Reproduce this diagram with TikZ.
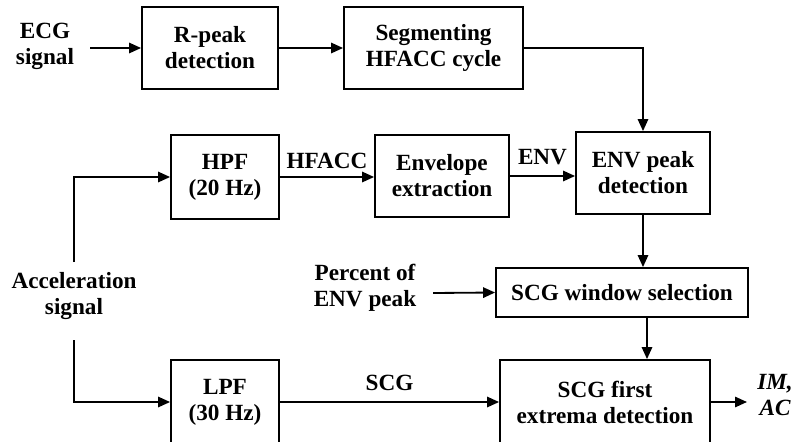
\documentclass[tikz,border=0pt]{standalone}
\usepackage{fontspec}
\setmainfont{Liberation Serif}
\usetikzlibrary{arrows.meta}
\begin{document}
\begin{tikzpicture}[x=.025cm,y=-.025cm,line width=1.3pt,
  font=\fontsize{16.5}{18.5}\selectfont\bfseries,
  blk/.style={draw,align=center,inner sep=0pt},
  lbl/.style={align=center,inner sep=1pt},
  >={Triangle[length=.3cm,width=.26cm]}]
  \useasboundingbox (0,0) rectangle (800,441);
  % top row
  \node[lbl] (ecg) at (45,46) {ECG\\signal};
  \node[blk,minimum width=3.4cm,minimum height=2.05cm] (rpk) at (210,48) {R-peak\\detection};
  \node[blk,minimum width=4.475cm,minimum height=2.05cm] (seg) at (433.5,48) {Segmenting\\HFACC cycle};
  % middle row
  \node[blk,minimum width=2.7cm,minimum height=2.1cm] (hpf) at (225,177) {HPF\\(20 Hz)};
  \node[blk,minimum width=3.35cm,minimum height=2.05cm] (env) at (442,176) {Envelope\\extraction};
  \node[blk,minimum width=3.35cm,minimum height=2.05cm] (envpk) at (643,173) {ENV peak\\detection};
  \node[lbl] (acc) at (74,296) {Acceleration\\signal};
  \node[lbl] (pct) at (365,288) {Percent of\\ENV peak};
  \node[blk,minimum width=6.3cm,minimum height=1.225cm] (win) at (622,292.5) {SCG window selection};
  % bottom row
  \node[blk,minimum width=2.7cm,minimum height=2.1cm] (lpf) at (225,402) {LPF\\(30 Hz)};
  \node[blk,minimum width=5.25cm,minimum height=2.1cm] (ext) at (605,402) {SCG first\\extrema detection};
  \node[lbl,font=\fontsize{16.5}{18.5}\selectfont\bfseries\itshape] (out) at (775,395) {IM,\\AC};
  \coordinate (acctop) at (74,262);
  \coordinate (accbot) at (74,340);
  % connectors
  \draw[->] (90,48) -- (rpk.west);
  \draw[->] (rpk) -- (seg);
  \draw[->] (seg.east) -| (envpk.north);
  \draw[->] (acctop) |- (hpf.west);
  \draw[->] (accbot) |- (lpf.west);
  \draw[->] (hpf.east) -- node[above=2pt] {HFACC} (hpf.east -| env.west);
  \draw[->] (env.east) -- node[above=4pt] {ENV} (env.east -| envpk.west);
  \draw[->] (envpk.south) -- (envpk.south |- win.north);
  \draw[->] (433,293) -- (win.west);
  \draw[->] ([xshift=.1cm]envpk.south |- win.south) -- ([xshift=.1cm]envpk.south |- ext.north);
  \draw[->] (lpf.east) -- node[above=4pt] {SCG} (lpf.east -| ext.west);
  \draw[->] (ext.east) -- (747,402);
\end{tikzpicture}
\end{document}
